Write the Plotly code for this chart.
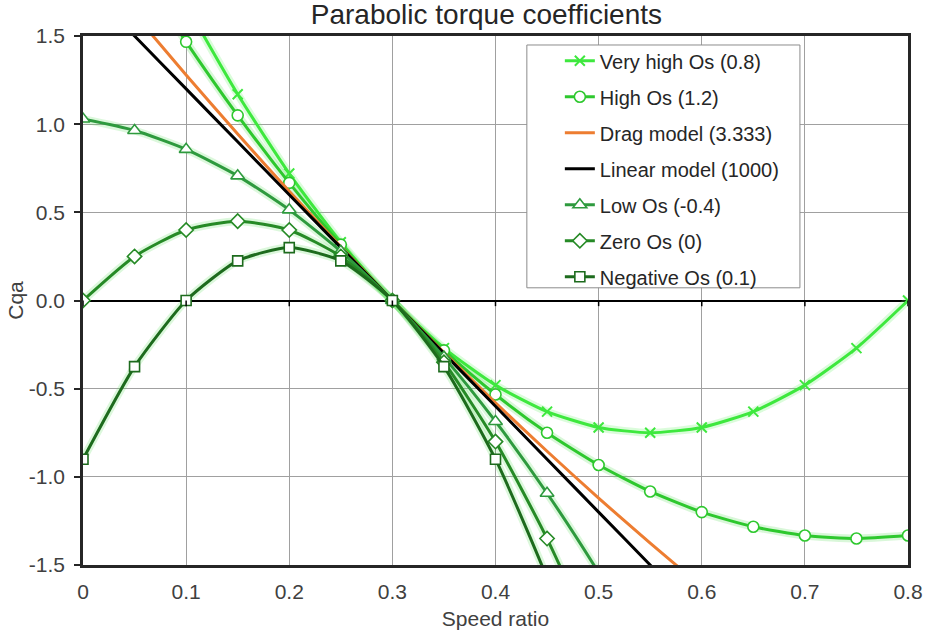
import plotly.graph_objects as go

speed_ratio = [0, 0.05, 0.1, 0.15, 0.2, 0.25, 0.3, 0.35, 0.4, 0.45, 0.5, 0.55, 0.6, 0.65, 0.7, 0.75, 0.8]

very_high_os = [2.88, 2.25, 1.68, 1.17, 0.72, 0.33, 0, -0.27, -0.48, -0.63, -0.72, -0.75, -0.72, -0.63, -0.48, -0.27, 0]
high_os = [2.4, 1.917, 1.467, 1.05, 0.667, 0.317, 0, -0.283, -0.533, -0.75, -0.933, -1.083, -1.2, -1.283, -1.333, -1.35, -1.333]
drag_model = [1.978, 1.624, 1.279, 0.944, 0.62, 0.305, 0, -0.295, -0.58, -0.855, -1.121, -1.376, -1.622, -1.857, -2.083, -2.299, -2.505]
linear_model = [1.8, 1.5, 1.2, 0.9, 0.6, 0.3, 0, -0.3, -0.6, -0.9, -1.2, -1.5, -1.8, -2.1, -2.4, -2.7, -3.0]
low_os = [1.029, 0.964, 0.857, 0.707, 0.514, 0.279, 0, -0.321, -0.686, -1.093, -1.543, -2.036, -2.571, -3.15, -3.771, -4.436, -5.143]
zero_os = [0, 0.25, 0.4, 0.45, 0.4, 0.25, 0, -0.35, -0.8, -1.35, -2.0, -2.75, -3.6, -4.55, -5.6, -6.75, -8.0]
negative_os = [-0.9, -0.375, 0, 0.225, 0.3, 0.225, 0, -0.375, -0.9, -1.575, -2.4, -3.375, -4.5, -5.775, -7.2, -8.775, -10.5]

x_ticks = [0, 0.1, 0.2, 0.3, 0.4, 0.5, 0.6, 0.7, 0.8]
x_tick_labels = ["0", "0.1", "0.2", "0.3", "0.4", "0.5", "0.6", "0.7", "0.8"]
y_ticks = [-1.5, -1.0, -0.5, 0.0, 0.5, 1.0, 1.5]
y_tick_labels = ["-1.5", "-1.0", "-0.5", "0.0", "0.5", "1.0", "1.5"]

series = [
    ("Very high Os (0.8)", very_high_os, "#3ee83e", "x-thin-open", 10, "rgba(90,240,90,0.22)"),
    ("High Os (1.2)", high_os, "#2ec82e", "circle", 11, "rgba(80,220,80,0.22)"),
    ("Drag model (3.333)", drag_model, "#ed7d31", None, 0, None),
    ("Linear model (1000)", linear_model, "#000000", None, 0, None),
    ("Low Os (-0.4)", low_os, "#2e9a3e", "triangle-up", 12, "rgba(80,220,80,0.2)"),
    ("Zero Os (0)", zero_os, "#268a26", "diamond", 11, "rgba(80,220,80,0.2)"),
    ("Negative Os (0.1)", negative_os, "#1d6b1d", "square", 10, "rgba(80,220,80,0.2)"),
]

fig = go.Figure()

# soft glow behind the green curves
for name, ys, color, symbol, size, glow in series:
    if glow:
        fig.add_trace(go.Scatter(
            x=speed_ratio, y=ys, mode="lines", showlegend=False, hoverinfo="skip",
            line=dict(color=glow, width=8, shape="spline", smoothing=0.6),
        ))

for i, (name, ys, color, symbol, size, glow) in enumerate(series):
    line = dict(color=color, width=3, shape="spline", smoothing=0.6)
    if symbol is None:
        fig.add_trace(go.Scatter(x=speed_ratio, y=ys, name=name, mode="lines",
                                 line=line, legendgroup=f"g{i}"))
    elif symbol.endswith("-open"):
        fig.add_trace(go.Scatter(
            x=speed_ratio, y=ys, name=name, mode="lines+markers", line=line,
            marker=dict(symbol=symbol, size=size, color=color, line=dict(color=color, width=2)),
            legendgroup=f"g{i}"))
    else:
        fig.add_trace(go.Scatter(
            x=speed_ratio, y=ys, name=name, mode="lines+markers", line=line,
            marker=dict(symbol=symbol, size=size, color="white", line=dict(color=color, width=1.6)),
            legendgroup=f"g{i}"))

# Excel-style tick marks on the horizontal axis crossing at y = 0
for xv in x_ticks:
    fig.add_shape(type="line", xref="x", yref="y", x0=xv, x1=xv, y0=0, y1=-0.032,
                  line=dict(color="#000000", width=1.5), layer="above")

# legend frame
fig.add_shape(type="rect", xref="paper", yref="paper",
              x0=0.538, x1=0.869, y0=0.524, y1=0.983,
              line=dict(color="#8c8c8c", width=1), fillcolor="white", layer="above")

fig.update_layout(
    width=926, height=636,
    margin=dict(l=83, r=18, t=36, b=71),
    paper_bgcolor="white", plot_bgcolor="white",
    font=dict(family="Liberation Sans, Arial, sans-serif", size=20, color="#404040"),
    title=dict(text="Parabolic torque coefficients", x=0.489, xref="paper",
               y=0.977, yref="container", yanchor="middle", pad=dict(t=0, b=0),
               font=dict(size=28, color="#262626")),
    showlegend=True,
    legend=dict(x=0.578, y=0.99, xanchor="left", yanchor="top",
                bgcolor="rgba(0,0,0,0)", borderwidth=0,
                font=dict(size=20, color="#262626"), tracegroupgap=7,
                itemwidth=30),
    xaxis=dict(range=[0, 0.8], tickvals=x_ticks, ticktext=x_tick_labels,
               showgrid=True, gridcolor="#a0a0a0", gridwidth=1,
               showline=True, linecolor="#262626", linewidth=2.5, mirror=True,
               ticks="", ticklabelstandoff=6, automargin=False,
               tickfont=dict(size=21, color="#404040"),
               zeroline=False,
               title=dict(text="Speed ratio", font=dict(size=21, color="#404040"), standoff=10)),
    yaxis=dict(range=[-1.5, 1.5], tickvals=y_ticks, ticktext=y_tick_labels,
               showgrid=True, gridcolor="#a0a0a0", gridwidth=1,
               showline=True, linecolor="#262626", linewidth=2.5, mirror=True,
               ticks="outside", ticklen=6, tickcolor="#262626", tickwidth=1.5,
               ticklabelstandoff=5, automargin=False,
               tickfont=dict(size=21, color="#404040"),
               zeroline=True, zerolinecolor="#000000", zerolinewidth=2,
               title=dict(text="Cqa", font=dict(size=21, color="#404040"), standoff=0)),
)

fig.write_html("out.html", config={"displayModeBar": False},
               post_script="document.body.style.margin='0';")
